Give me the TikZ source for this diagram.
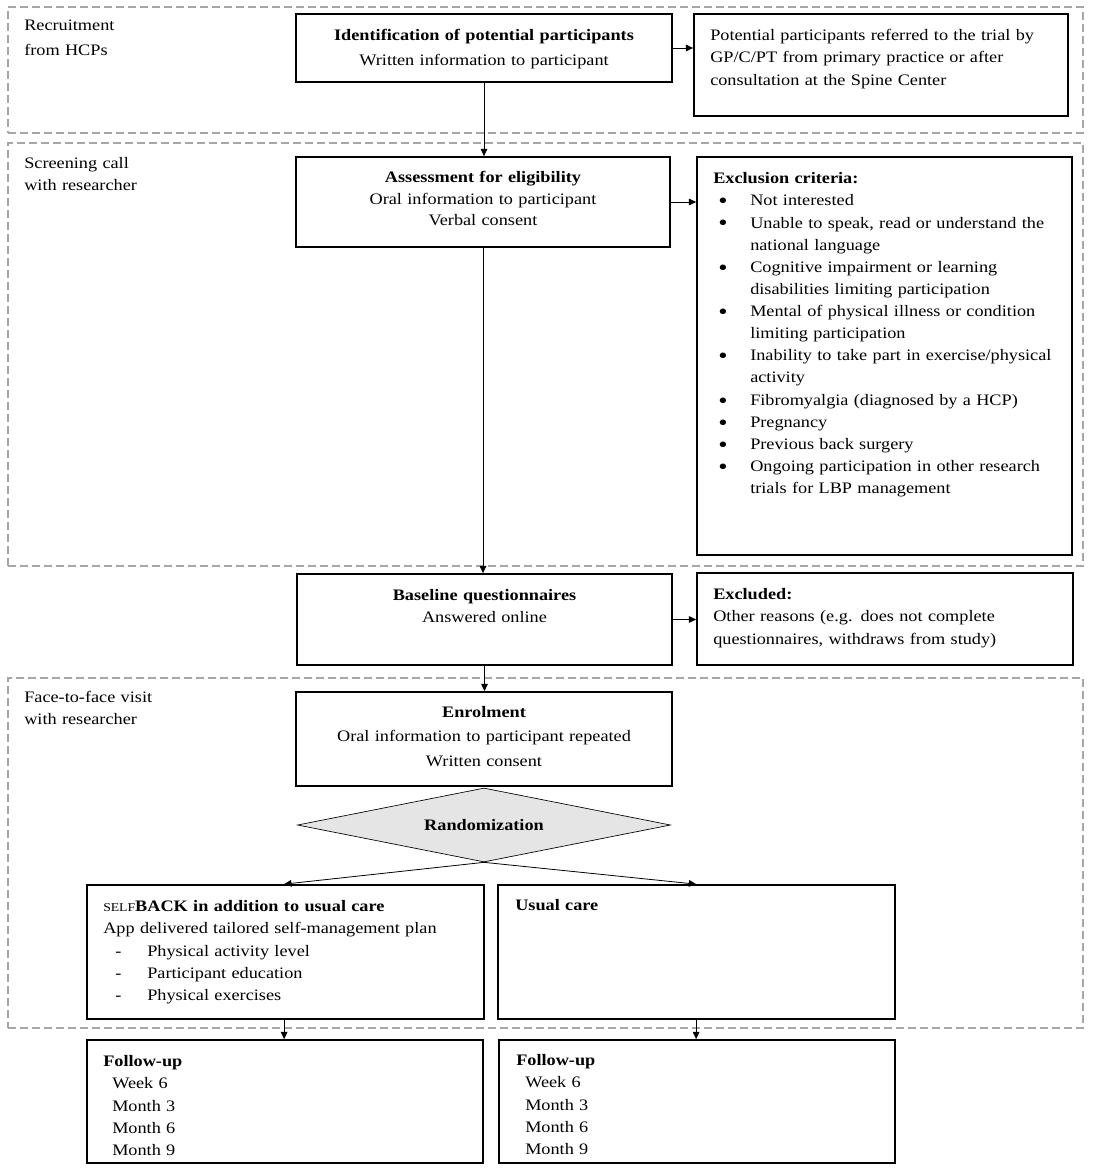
\documentclass[tikz,border=0pt]{standalone}
\usepackage{fontspec}
\setmainfont{Liberation Serif}[FakeStretch=1.14]
\usetikzlibrary{arrows.meta,shapes.geometric,fit}
\newcommand\bul{\hspace*{3.75pt}\makebox[24pt][l]{\raisebox{-2.2pt}{\scalebox{1.45}{•}}}}
\newcommand\cont{\hspace*{27.75pt}}
\begin{document}
\begin{tikzpicture}[x=0.75pt,y=-0.75pt,
  region/.style={draw=black!35, line width=1.1pt, dash pattern=on 6pt off 3pt, inner sep=0pt},
  box/.style={draw, line width=1.3pt, inner sep=0pt},
  txt/.style={inner sep=0pt, font=\fontsize{12}{16.6}\selectfont, anchor=north west, align=left, text width=275pt},
  ctxt/.style={inner sep=0pt, font=\fontsize{12}{16.3}\selectfont, anchor=north, align=center, text width=275pt},
  arr/.style={-{Triangle[length=5.5pt,width=5pt]}, line width=0.6pt},
]
\useasboundingbox (0,0) rectangle (1094,1169);

% regions
\node[region, fit={(8,7)(1083,133)}] (r1) {};
\node[region, fit={(8,143)(1083,566)}] (r2) {};
\node[region, fit={(8,678)(1083,1028)}] (r3) {};
\node[txt] (l1) at (24,15) {\strut Recruitment\\[2pt]from HCPs};
\node[txt] (l2) at (24,153) {\strut Screening call\\with researcher};
\node[txt] (l3) at (24,687) {\strut Face-to-face visit\\with researcher};

% boxes
\node[box, fit={(296,14)(672,82)}] (b1) {};
\node[box, fit={(694,14)(1068,116)}] (b2) {};
\node[box, fit={(296,157)(670,247)}] (b3) {};
\node[box, fit={(697,157)(1072,555)}] (b4) {};
\node[box, fit={(297,574)(672,665)}] (b5) {};
\node[box, fit={(697,573)(1073,665)}] (b6) {};
\node[box, fit={(296,692)(672,786)}] (b7) {};
\node[diamond, draw, fill=black!10, line width=0.5pt, inner sep=0pt,
      minimum width=279.75pt, minimum height=55.5pt] (dia) at (484,825) {};
\node[box, fit={(87,885)(484,1019)}] (b8) {};
\node[box, fit={(498,885)(895,1019)}] (b9) {};
\node[box, fit={(87,1040)(483,1163)}] (b10) {};
\node[box, fit={(499,1040)(895,1163)}] (b11) {};

% texts
\node[ctxt] (t1) at (484,25) {\strut\textbf{Identification of potential participants}\\[2.2pt]Written information to participant};
\node[txt] (t2) at (710,25) {\strut Potential participants referred to the trial by\\GP/C/PT from primary practice or after\\consultation at the Spine Center};
\node[ctxt] (t3) at (483,167) {\strut\textbf{Assessment for eligibility}\\Oral information to participant\\Verbal consent};
\node[txt] (t4) at (713,168) {\strut\textbf{Exclusion criteria:}\\
\bul Not interested\\
\bul Unable to speak, read or understand the\\
\cont national language\\
\bul Cognitive impairment or learning\\
\cont disabilities limiting participation\\
\bul Mental of physical illness or condition\\
\cont limiting participation\\
\bul Inability to take part in exercise/physical\\
\cont activity\\
\bul Fibromyalgia (diagnosed by a HCP)\\
\bul Pregnancy\\
\bul Previous back surgery\\
\bul Ongoing participation in other research\\
\cont trials for LBP management};
\node[ctxt] (t5) at (484.5,585) {\strut\textbf{Baseline questionnaires}\\Answered online};
\node[txt] (t6) at (713,584) {\strut\textbf{Excluded:}\\Other reasons (e.g. does not complete\\questionnaires, withdraws from study)};
\node[ctxt] (t7) at (484,702) {\strut\textbf{Enrolment}\\[1.9pt]Oral information to participant repeated\\[1.9pt]Written consent};
\node[inner sep=0pt, font=\fontsize{12}{14}\selectfont\bfseries] (td) at (dia) {Randomization};
\node[txt] (t8) at (103,896) {\strut{\fontsize{9}{10}\selectfont SELF}\textbf{BACK in addition to usual care}\\
App delivered tailored self-management plan\\
\hspace*{9pt}\makebox[24pt][l]{-}Physical activity level\\
\hspace*{9pt}\makebox[24pt][l]{-}Participant education\\
\hspace*{9pt}\makebox[24pt][l]{-}Physical exercises};
\node[txt] (t9) at (515,895) {\strut\textbf{Usual care}};
\node[txt] (t10) at (103,1051) {\strut\textbf{Follow-up}\\
\hspace*{6.75pt}Week 6\\\hspace*{6.75pt}Month 3\\\hspace*{6.75pt}Month 6\\\hspace*{6.75pt}Month 9};
\node[txt] (t11) at (516,1050) {\strut\textbf{Follow-up}\\
\hspace*{6.75pt}Week 6\\\hspace*{6.75pt}Month 3\\\hspace*{6.75pt}Month 6\\\hspace*{6.75pt}Month 9};

% connectors
\draw[arr] (b1.east) -- (b1.east -| b2.west);
\draw[arr] (b1.south) -- (b1.south |- b3.north);
\draw[arr] (b3.east) -- (b3.east -| b4.west);
\draw[arr] (b3.south) -- (b3.south |- b5.north);
\draw[arr] (b5.east) -- (b5.east -| b6.west);
\draw[arr] (b5.south) -- (b5.south |- b7.north);
\path (b8.north west) ++(198,0) coordinate (c8);
\path (b9.north west) ++(199,0) coordinate (c9);
\draw[arr] (dia.south) -- (c8);
\draw[arr] (dia.south) -- (c9);
\draw[arr] (c8 |- b8.south) -- (c8 |- b10.north);
\draw[arr] (c9 |- b9.south) -- (c9 |- b11.north);
\end{tikzpicture}
\end{document}
